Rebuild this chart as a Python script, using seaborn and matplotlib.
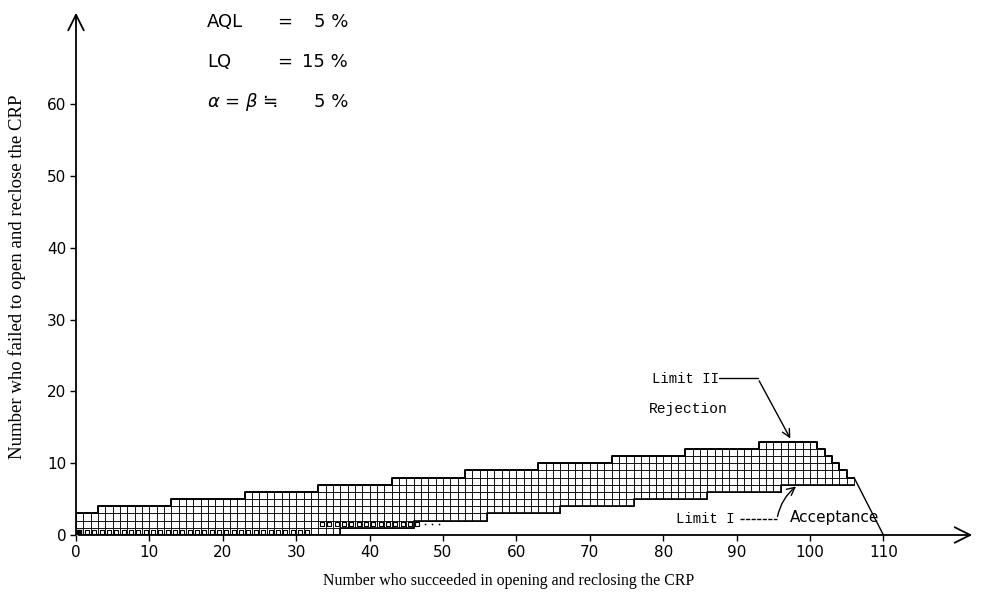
import matplotlib
matplotlib.use("Agg")
from matplotlib import pyplot as plt
import numpy as np
import pandas as pd
import seaborn as sns

# Continuation region of the sequential plan
# upper edge (Limit II, rejection) and lower edge (Limit I, acceptance) as steps
upper_edges = [0, 3, 13, 23, 33, 43, 53, 63, 73, 83, 93, 101, 102, 103, 104, 105, 106]
upper_levels = [3, 4, 5, 6, 7, 8, 9, 10, 11, 12, 13, 12, 11, 10, 9, 8]
lower_edges = [0, 36, 46, 56, 66, 76, 86, 96, 106]
lower_levels = [0, 1, 2, 3, 4, 5, 6, 7]

# truncation line at the right end
trunc_x = [106, 110]
trunc_y = [8, 0]

# rows of small squares near the bottom
small_row0_x = list(range(1, 32))
small_row1_x = list(range(33, 47))
dots_row1_x = [47, 48, 49]

x_ticks = [0, 10, 20, 30, 40, 50, 60, 70, 80, 90, 100, 110]
y_ticks = [0, 10, 20, 30, 40, 50, 60]

plan_lines = [("AQL", "=", "5 %"), ("LQ", "=", "15 %"), ("$\\alpha$ = $\\beta$ ≒", "", "5 %")]


def px(x, y):
    # pixel position (from top-left) to figure fraction
    return x / 983, 1 - y / 604


sns.set_style("white")
plt.rcParams["font.family"] = ["DejaVu Sans"]
plt.rcParams["text.color"] = "black"
plt.rcParams["axes.labelcolor"] = "black"
plt.rcParams["xtick.color"] = "black"
plt.rcParams["ytick.color"] = "black"

fig = plt.figure(figsize=(9.83, 6.04), dpi=100)
ax = fig.add_axes([76 / 983, 69 / 604, 899 / 983, 525 / 604])
ax.set_xlim(0, 899 / 7.34)
ax.set_ylim(0, 525 / 7.18)

# Build the unit cells of the continuation region
col_top = np.repeat(upper_levels, np.diff(upper_edges))
col_bot = np.repeat(lower_levels, np.diff(lower_edges))
cells = pd.DataFrame(
    [(i, j) for i in range(len(col_top)) for j in range(col_bot[i], col_top[i])], columns=["x", "y"]
)
ax.bar(
    cells["x"], 1, bottom=cells["y"], width=1, align="edge",
    facecolor="white", edgecolor="black", linewidth=0.6,
)

# Outline of the region
sns.lineplot(
    x=upper_edges, y=upper_levels + [upper_levels[-1]], drawstyle="steps-post",
    color="black", linewidth=1.4, estimator=None, sort=False, ax=ax,
)
sns.lineplot(
    x=lower_edges, y=lower_levels + [lower_levels[-1]], drawstyle="steps-post",
    color="black", linewidth=1.2, estimator=None, sort=False, ax=ax,
)
sns.lineplot(x=trunc_x, y=trunc_y, color="black", linewidth=1.0, estimator=None, sort=False, ax=ax)

# Small squares rows
sns.scatterplot(
    x=np.array(small_row0_x) + 0.5, y=0.4, marker="s", s=12, facecolor="white",
    edgecolor="black", linewidth=0.8, ax=ax, zorder=3,
)
sns.scatterplot(
    x=np.array(small_row1_x) + 0.5, y=1.5, marker="s", s=12, facecolor="white",
    edgecolor="black", linewidth=0.8, ax=ax, zorder=3,
)
sns.scatterplot(x=np.array(dots_row1_x) + 0.5, y=1.5, marker=".", s=8, color="black", ax=ax, zorder=3)
sns.scatterplot(x=[0.4], y=[0.4], marker="s", s=25, color="black", ax=ax, zorder=3)

# Axes drawn as arrows
for s in ax.spines.values():
    s.set_visible(False)
ax.annotate("", xy=(1.0, 0), xytext=(0, 0), xycoords="axes fraction",
            arrowprops=dict(arrowstyle="->", lw=1.3, color="black", mutation_scale=28))
ax.annotate("", xy=(0, 1.0), xytext=(0, -0.005), xycoords="axes fraction",
            arrowprops=dict(arrowstyle="->", lw=1.3, color="black", mutation_scale=28))

ax.set_xticks(x_ticks)
ax.set_yticks(y_ticks)
ax.tick_params(axis="both", direction="out", length=4, width=1, color="black",
               labelsize=11, left=True, bottom=True, pad=3)
ax.grid(False)

serif = ["Liberation Serif", "DejaVu Serif"]
ax.set_xlabel("Number who succeeded in opening and reclosing the CRP", family=serif, fontsize=11.4)
ax.xaxis.set_label_coords((509 - 76) / 899, (535 - 581) / 525)
ax.xaxis.label.set_va("center")
ax.set_ylabel("Number who failed to open and reclose the CRP", family=serif, fontsize=13.5)
ax.yaxis.set_label_coords((17 - 76) / 899, (535 - 277) / 525)
ax.yaxis.label.set_va("center")

# Plan parameters
for k, (name, eq, val) in enumerate(plan_lines):
    y = 22 + k * 40
    fig.text(*px(207, y), name, fontsize=13, ha="left", va="center")
    fig.text(*px(285, y), eq, fontsize=13, ha="center", va="center")
    fig.text(*px(348, y), val, fontsize=13, ha="right", va="center")

# Limit annotations
mono = ["Liberation Mono", "DejaVu Sans Mono"]
ax.text(78.5, 21.7, "Limit II", family=mono, fontsize=10, ha="left", va="center")
ax.text(78.0, 17.6, "Rejection", family=mono, fontsize=10.5, ha="left", va="center")
ax.plot([87.6, 92.9], [21.8, 21.8], color="black", lw=1.0)
ax.annotate("", xy=(97.5, 13.1), xytext=(92.9, 21.8),
            arrowprops=dict(arrowstyle="->", lw=1.0, color="black", mutation_scale=14))

ax.text(81.8, 2.2, "Limit I", family=mono, fontsize=10, ha="left", va="center")
ax.plot([90.5, 95.5], [2.2, 2.2], color="black", lw=1.0, ls=(0, (3, 1)))
ax.annotate("", xy=(98.4, 7.0), xytext=(95.5, 2.2),
            arrowprops=dict(arrowstyle="->", lw=1.0, color="black", mutation_scale=14,
                            connectionstyle="arc3,rad=-0.2"))
ax.text(97.2, 2.4, "Acceptance", fontsize=11, ha="left", va="center")

fig.savefig("out.png", dpi=100)
